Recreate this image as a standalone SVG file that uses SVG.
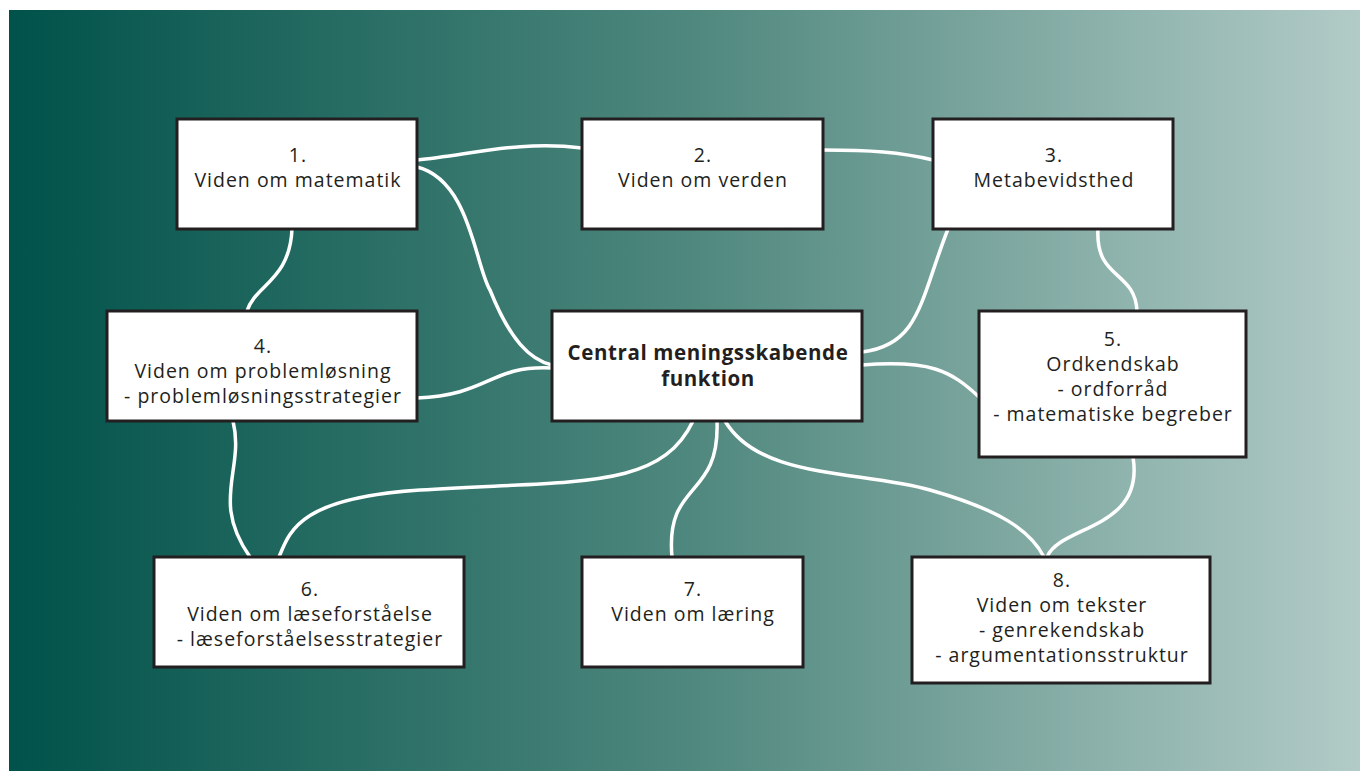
<svg xmlns="http://www.w3.org/2000/svg" width="1360" height="771" viewBox="0 0 1360 771">
<defs>
<linearGradient id="bg" x1="0" y1="0" x2="1" y2="0">
<stop offset="0" stop-color="#00524a"/>
<stop offset="0.5" stop-color="#4e877d"/>
<stop offset="1" stop-color="#b2cbc7"/>
</linearGradient>
<style>
.box{fill:#fff;stroke:#231f20;stroke-width:3}
.t{font-family:"Open Sans","Noto Sans",sans-serif;font-size:19.5px;letter-spacing:1px;fill:#231f20;text-anchor:middle}
.b{font-family:"Open Sans","Noto Sans",sans-serif;font-size:20.5px;letter-spacing:0.6px;font-weight:bold;fill:#231f20;text-anchor:middle}
.c{fill:none;stroke:#fff;stroke-width:3.5}
</style>
</defs>
<rect x="0" y="0" width="1360" height="771" fill="#fff"/>
<rect x="9" y="10" width="1351" height="761" fill="url(#bg)"/>
<g id="connectors">
<path class="c" d="M417,160 C470,155 520,140 582,148"/>
<path class="c" d="M823,150 C870,150 900,152 933,160"/>
<path class="c" d="M417,167 C470,180 475,265 490,290 C510,340 530,360 552,365"/>
<path class="c" d="M292,229 C290,280 255,285 247,311"/>
<path class="c" d="M948,229 C920,300 920,345 862,352"/>
<path class="c" d="M1098,229 C1095,280 1135,270 1137,311"/>
<path class="c" d="M417,398 C490,395 490,365 552,368"/>
<path class="c" d="M862,365 C930,360 950,370 979,397"/>
<path class="c" d="M233,421 C245,470 210,500 250,557"/>
<path class="c" d="M693,421 C660,490 580,480 420,490 C300,498 290,530 279,557"/>
<path class="c" d="M717,421 C720,500 665,480 672,557"/>
<path class="c" d="M725,421 C760,480 860,470 930,490 C1000,510 1030,530 1044,557"/>
<path class="c" d="M1133,457 C1145,530 1060,525 1047,557"/>
</g>
<g id="n1"><rect class="box" x="177" y="119" width="240" height="110"/>
<text class="t" x="298" y="162">1.</text><text class="t" x="298" y="187">Viden om matematik</text></g>
<g id="n2"><rect class="box" x="582" y="119" width="241" height="110"/>
<text class="t" x="703" y="162">2.</text><text class="t" x="703" y="187">Viden om verden</text></g>
<g id="n3"><rect class="box" x="933" y="119" width="240" height="110"/>
<text class="t" x="1054" y="162">3.</text><text class="t" x="1054" y="187">Metabevidsthed</text></g>
<g id="n4"><rect class="box" x="107" y="311" width="310" height="110"/>
<text class="t" x="263" y="353">4.</text><text class="t" x="263" y="378">Viden om problemløsning</text><text class="t" x="263" y="403">- problemløsningsstrategier</text></g>
<g id="central"><rect class="box" x="552" y="311" width="310" height="110"/>
<text class="b" x="708" y="360">Central meningsskabende</text><text class="b" x="708" y="386">funktion</text></g>
<g id="n5"><rect class="box" x="979" y="311" width="267" height="146"/>
<text class="t" x="1113" y="346">5.</text><text class="t" x="1113" y="371">Ordkendskab</text><text class="t" x="1113" y="396">- ordforråd</text><text class="t" x="1113" y="421">- matematiske begreber</text></g>
<g id="n6"><rect class="box" x="154" y="557" width="310" height="110"/>
<text class="t" x="310" y="596">6.</text><text class="t" x="310" y="621">Viden om læseforståelse</text><text class="t" x="310" y="646">- læseforståelsesstrategier</text></g>
<g id="n7"><rect class="box" x="582" y="557" width="221" height="110"/>
<text class="t" x="693" y="596">7.</text><text class="t" x="693" y="621">Viden om læring</text></g>
<g id="n8"><rect class="box" x="912" y="557" width="298" height="126"/>
<text class="t" x="1062" y="587">8.</text><text class="t" x="1062" y="612">Viden om tekster</text><text class="t" x="1062" y="637">- genrekendskab</text><text class="t" x="1062" y="662">- argumentationsstruktur</text></g>
</svg>
